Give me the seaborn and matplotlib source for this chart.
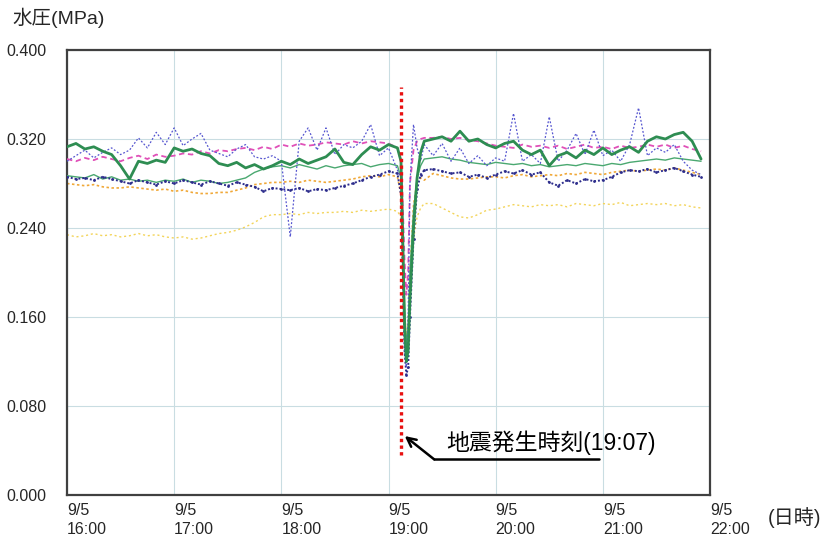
import numpy as np
import pandas as pd
import matplotlib
matplotlib.use("Agg")
import matplotlib.pyplot as plt
import seaborn as sns

# ---- data (MPa) ----
pre_minutes = list(range(0, 190, 5))          # 16:00 .. 19:05
quake_minutes = [187, 188, 189, 190, 191, 192, 194, 196, 198, 200]  # 19:07 .. 19:20
post_minutes = list(range(205, 360, 5))       # 19:25 .. 21:55
minutes = pre_minutes + quake_minutes + post_minutes

green_thick = [.313, .316, .311, .313, .309, .306, .296, .284, .300, .298, .301, .299,
               .312, .309, .311, .307, .305, .298, .296, .299,
               .294, .297, .293, .296,
               .300, .297, .302, .298, .301, .304,
               .311, .299, .297, .306, .313, .310,
               .315, .312,
               .300, .230, .150, .120, .130, .175, .240, .285, .308, .318,
               .320, .322, .318, .327, .318, .320, .315,
               .312, .316, .318, .310, .306, .310,
               .296, .305, .308, .303, .310, .306,
               .312, .306, .310, .313, .308, .318,
               .322, .320, .324, .326, .318, .302]

green_thin = [.287, .286, .285, .288, .284, .286, .283, .284, .282, .283, .281, .283,
              .282, .284, .281, .283, .282, .280, .281, .283,
              .285, .290, .293, .295,
              .296, .294, .297, .295, .293, .296,
              .294, .296, .297, .298, .295, .297,
              .298, .296,
              .285, .240, .170, .135, .150, .200, .255, .285, .296, .302,
              .303, .304, .302, .301, .299, .298, .297,
              .299, .298, .297, .298, .296, .297,
              .295, .296, .297, .296, .298, .297,
              .296, .298, .297, .299, .300, .301,
              .302, .301, .303, .302, .301, .300]

navy = [.286, .284, .285, .283, .286, .284, .282, .280, .283, .281, .279, .282,
        .280, .283, .281, .279, .282, .280, .278, .281,
        .279, .277, .273, .276,
        .275, .274, .276, .273, .275, .274,
        .276, .278, .280, .283, .286, .288,
        .291, .289,
        .270, .200, .130, .108, .115, .160, .230, .275, .288, .292,
        .293, .291, .289, .290, .286, .288, .285,
        .288, .291, .289, .292, .288, .290,
        .281, .278, .283, .280, .284, .282,
        .283, .286, .290, .292, .291, .293,
        .290, .292, .294, .291, .288, .286]

blue = [.300, .305, .310, .303, .308, .312, .306, .310, .321, .312, .326, .315,
        .330, .314, .320, .325, .310, .307, .304, .311,
        .315, .304, .302, .305,
        .300, .232, .318, .330, .310, .330,
        .306, .315, .312, .318, .333, .305,
        .312, .292,
        .285, .200, .130, .115, .160, .280, .333, .312, .300, .315,
        .305, .316, .300, .312, .298, .305, .296,
        .303, .300, .343, .300, .306, .298,
        .340, .300, .310, .325, .306, .328,
        .305, .310, .300, .315, .348, .305,
        .312, .308, .315, .300, .292, .288]

magenta = [.302, .300, .303, .301, .304, .302, .300, .303, .305, .302, .306, .304,
           .305, .307, .306, .309, .307, .310, .309, .311,
           .312, .310, .313, .311,
           .315, .313, .316, .314, .315, .317,
           .316, .315, .318, .316, .318, .317,
           .316, .312,
           .300, .260, .210, .180, .200, .280, .310, .318, .320, .321,
           .321, .322, .320, .321, .319, .318, .316,
           .314, .313, .312, .315, .313, .314,
           .312, .314, .311, .313, .315, .312,
           .313, .311, .314, .312, .313, .315,
           .313, .315, .312, .314, .311, .309]

orange = [.280, .279, .278, .279, .277, .276, .276, .277, .276, .275, .274, .275,
          .273, .274, .272, .271, .271, .272, .272, .274,
          .276, .279, .280, .281,
          .281, .282, .281, .283, .282, .281,
          .282, .283, .284, .286, .287, .286,
          .288, .286,
          .270, .220, .160, .140, .150, .200, .260, .282, .285, .283,
          .289, .287, .285, .284, .284, .285, .286,
          .286, .285, .287, .288, .286, .287,
          .288, .287, .289, .288, .290, .289,
          .288, .290, .291, .292, .291, .292,
          .293, .292, .294, .292, .290, .288]

yellow = [.234, .232, .233, .235, .233, .234, .232, .233, .235, .233, .234, .232,
          .231, .232, .230, .231, .233, .235, .236, .238,
          .241, .245, .250, .252,
          .252, .253, .252, .254, .253, .254,
          .254, .255, .254, .256, .255, .256,
          .257, .255,
          .250, .220, .170, .140, .150, .190, .230, .250, .258, .262,
          .262, .258, .254, .250, .249, .252, .256,
          .257, .259, .261, .260, .259, .261,
          .260, .261, .259, .262, .261, .260,
          .262, .261, .263, .260, .261, .262,
          .261, .262, .260, .261, .259, .258]

hour_ticks = [16, 17, 18, 19, 20, 21, 22]
tick_labels = [f"9/5\n{h}:00" for h in hour_ticks]
y_ticks = [0.0, 0.08, 0.16, 0.24, 0.32, 0.40]
quake_hour = 19 + 7 / 60
quake_label = "地震発生時刻(19:07)"

# ---- figure ----
sns.set_theme(style="white")
plt.rcParams['font.family'] = ['Liberation Sans', 'Noto Sans CJK JP', 'DejaVu Sans']

hours = 16 + np.array(minutes) / 60.0
df = pd.DataFrame({"t": hours, "green_thick": green_thick, "green_thin": green_thin,
                   "navy": navy, "blue": blue, "magenta": magenta,
                   "orange": orange, "yellow": yellow})

fig = plt.figure(figsize=(8.25, 5.38), dpi=100)
ax = fig.add_axes([67 / 825, 43 / 538, 643 / 825, 445 / 538])

for x in hour_ticks:
    ax.axvline(x, color="#c9dde2", lw=0.8, zorder=0)
for y in y_ticks:
    ax.axhline(y, color="#c9dde2", lw=0.8, zorder=0)

sns.lineplot(data=df, x="t", y="yellow", ax=ax, color="#f3d45a", lw=1.0,
             linestyle=(0, (1.5, 2)), zorder=2)
sns.lineplot(data=df, x="t", y="orange", ax=ax, color="#f0a838", lw=1.2,
             linestyle=(0, (1.5, 1.5)), zorder=2)
sns.lineplot(data=df, x="t", y="magenta", ax=ax, color="#e050b8", lw=1.3,
             linestyle=(0, (3, 2)), zorder=3)
sns.lineplot(data=df, x="t", y="green_thin", ax=ax, color="#4aa870", lw=1.0, zorder=3)
sns.lineplot(data=df, x="t", y="navy", ax=ax, color="#2d2d8c", lw=1.4,
             linestyle=(0, (1, 1)), marker="o", markersize=2, markeredgewidth=0, zorder=4)
sns.lineplot(data=df, x="t", y="blue", ax=ax, color="#5656d0", lw=0.9,
             linestyle=(0, (1.5, 1.5)), zorder=4)
sns.lineplot(data=df, x="t", y="green_thick", ax=ax, color="#2e8d52", lw=2.0, zorder=5)

# earthquake marker line
ax.vlines(quake_hour, 0.036, 0.367, color="#e81010", lw=2.4,
          linestyles=(0, (1, 1)), zorder=6)

# annotation (bent arrow)
ax.plot([quake_hour + 0.31, quake_hour + 1.85], [0.032, 0.032], color="black", lw=1.8, zorder=6)
ax.annotate("", xy=(quake_hour + 0.035, 0.053), xytext=(quake_hour + 0.31, 0.032),
            arrowprops=dict(arrowstyle="->", lw=1.8, color="black",
                            mutation_scale=16, shrinkA=0, shrinkB=0), zorder=6)
ax.text(quake_hour + 0.42, 0.047, quake_label, fontsize=16.5, va="center", ha="left",
        color="black", zorder=7)

ax.set_xlim(16, 22)
ax.set_ylim(0, 0.4)
ax.set_xticks(hour_ticks)
ax.set_xticklabels(tick_labels, ha="left", fontsize=11.5, linespacing=1.3)
ax.set_yticks(y_ticks)
ax.set_yticklabels([f"{v:.3f}" for v in y_ticks], fontsize=11.5)
ax.tick_params(axis="y", pad=15, length=0)
ax.tick_params(axis="x", pad=6, length=0)
ax.set_xlabel("")
ax.set_ylabel("")
for s in ax.spines.values():
    s.set_color("#404040")
    s.set_linewidth(1.6)

fig.text(12 / 825, 1 - 18 / 538, "水圧(MPa)", fontsize=14, va="center", ha="left")
fig.text(768 / 825, 1 - 518 / 538, "(日時)", fontsize=14.5, va="center", ha="left")

fig.savefig("out.png", dpi=100)
